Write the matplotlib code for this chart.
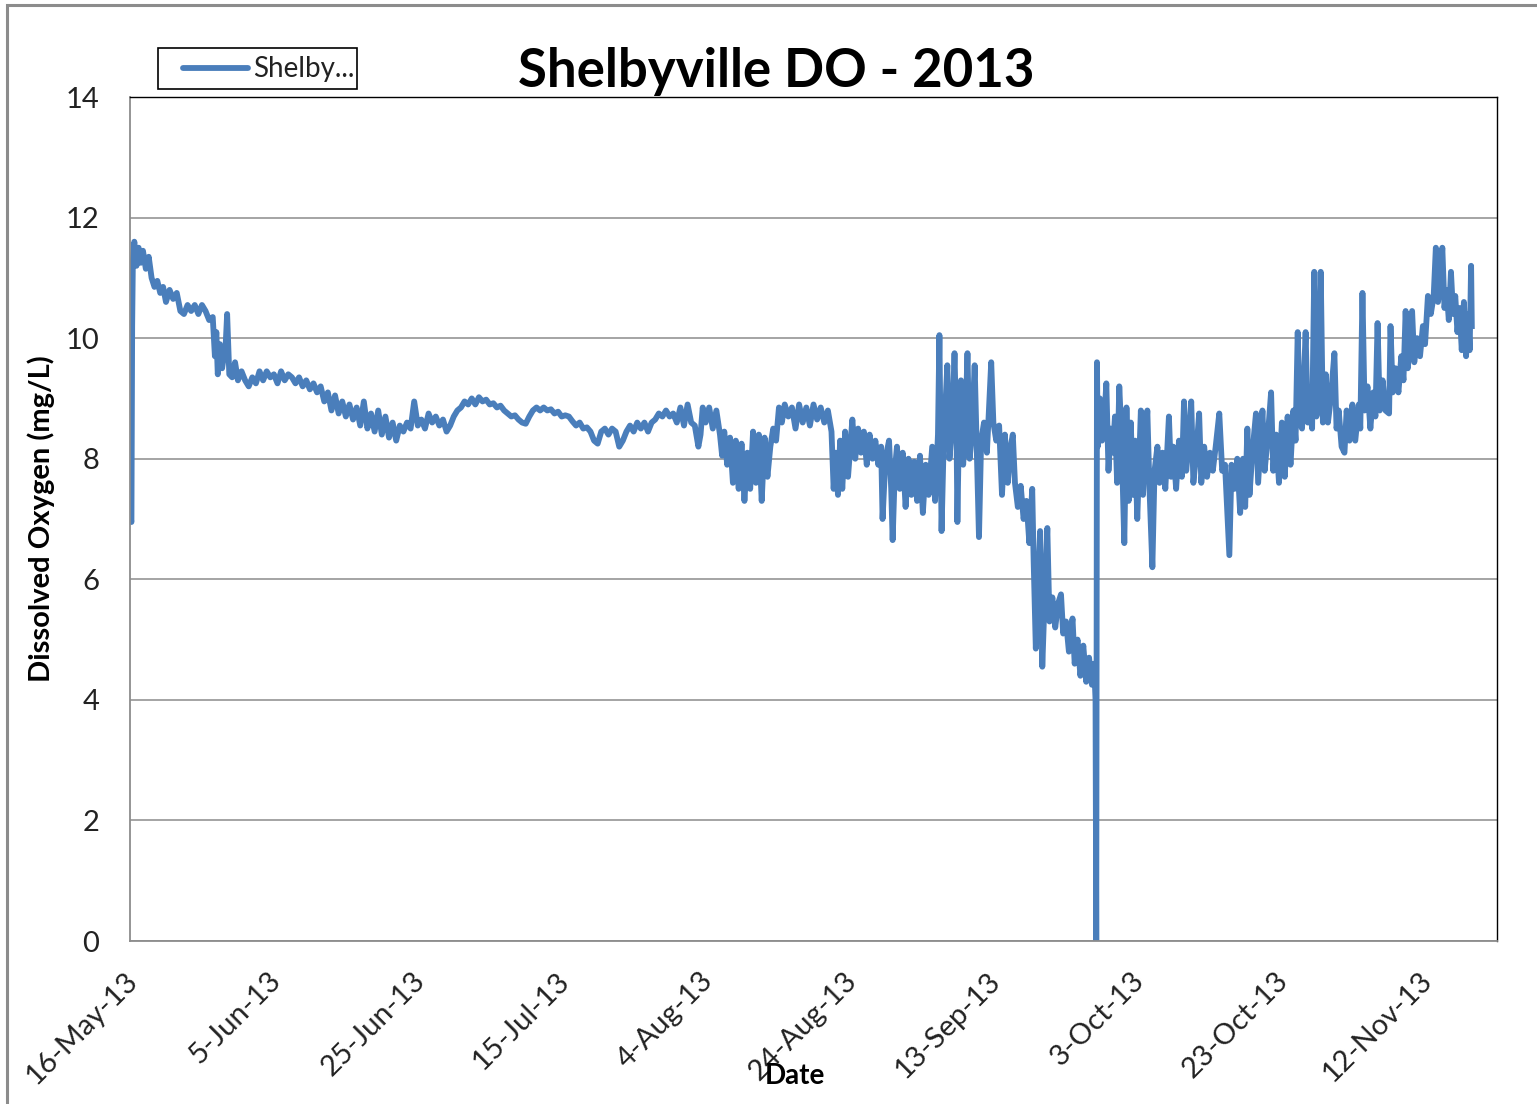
import numpy as np
import matplotlib
matplotlib.use("Agg")
import matplotlib.pyplot as plt
import matplotlib.dates as mdates
import matplotlib.transforms as mtransforms
from matplotlib.patches import Rectangle
from matplotlib.lines import Line2D

plt.rcParams['font.family'] = ['Lato', 'DejaVu Sans']

# readings: (days after 16-May-13, DO mg/L)
seg_may = [(0.0, 10.3), (0.1, 7.0), (0.2, 6.95), (0.3, 10.2), (0.4, 11.3), (0.6, 11.6), (0.9, 11.2),
           (1.2, 11.5), (1.5, 11.25), (1.8, 11.45), (2.2, 11.15), (2.6, 11.35), (3.0, 11.0), (3.4, 10.85),
           (3.8, 10.95), (4.2, 10.75), (4.6, 10.85), (5.0, 10.6), (5.5, 10.8), (6.0, 10.65), (6.5, 10.75),
           (7.0, 10.45), (7.5, 10.4), (8.0, 10.55), (8.5, 10.45), (9.0, 10.55), (9.5, 10.4), (10.0, 10.55),
           (10.5, 10.45), (11.0, 10.3), (11.5, 10.35), (11.8, 9.7), (12.0, 10.1), (12.2, 9.4), (12.5, 9.9),
           (12.8, 9.5), (13.3, 9.9), (13.5, 10.4), (13.8, 9.4), (14.2, 9.35), (14.6, 9.6), (15.0, 9.3),
           (15.5, 9.45), (16.0, 9.3), (16.5, 9.2), (17.0, 9.35), (17.5, 9.25), (18.0, 9.45), (18.5, 9.3),
           (19.0, 9.45), (19.5, 9.35), (20.0, 9.4), (20.5, 9.25), (21.0, 9.45), (21.5, 9.3), (22.0, 9.4),
           (22.5, 9.35), (23.0, 9.25), (23.5, 9.35), (24.0, 9.2), (24.5, 9.3), (25.0, 9.15), (25.5, 9.25),
           (26.0, 9.1), (26.5, 9.2), (27.0, 8.95), (27.5, 9.1), (28.0, 8.8), (28.5, 9.05), (29.0, 8.75),
           (29.5, 8.95), (30.0, 8.7), (30.5, 8.9), (31.0, 8.65), (31.5, 8.85)]

seg_jun = [(32.0, 8.55), (32.5, 8.95), (33.0, 8.5), (33.5, 8.75), (34.0, 8.45), (34.5, 8.8), (35.0, 8.4),
           (35.5, 8.7), (36.0, 8.35), (36.5, 8.6), (37.0, 8.3), (37.5, 8.55), (38.0, 8.45), (38.5, 8.6),
           (39.0, 8.5), (39.5, 8.95), (40.0, 8.55), (40.5, 8.65), (41.0, 8.5), (41.5, 8.75), (42.0, 8.6),
           (42.5, 8.7), (43.0, 8.55), (43.5, 8.65), (44.0, 8.45), (44.5, 8.55), (45.0, 8.7), (45.5, 8.8),
           (46.0, 8.85), (46.5, 8.95), (47.0, 8.9), (47.5, 9.0), (48.0, 8.9), (48.5, 9.02), (49.0, 8.95),
           (49.5, 8.98), (50.0, 8.9), (50.5, 8.92), (51.0, 8.85), (51.5, 8.88), (52.0, 8.8), (52.5, 8.75),
           (53.0, 8.7), (53.5, 8.72), (54.0, 8.65), (54.5, 8.6), (55.0, 8.58), (55.5, 8.7), (56.0, 8.8),
           (56.5, 8.85), (57.0, 8.8), (57.5, 8.85), (58.0, 8.8), (58.5, 8.82), (59.0, 8.75), (59.5, 8.78),
           (60.0, 8.7), (60.5, 8.72), (61.0, 8.7), (61.5, 8.62), (62.0, 8.55), (62.5, 8.6), (63.0, 8.5),
           (63.5, 8.52), (64.0, 8.45), (64.5, 8.3), (65.0, 8.25), (65.5, 8.45), (66.0, 8.5), (66.5, 8.4)]

seg_jul = [(67.0, 8.5), (67.5, 8.45), (68.0, 8.2), (68.5, 8.3), (69.0, 8.45), (69.5, 8.55), (70.0, 8.45),
           (70.5, 8.6), (71.0, 8.5), (71.5, 8.6), (72.0, 8.45), (72.5, 8.6), (73.0, 8.65), (73.5, 8.75),
           (74.0, 8.7), (74.5, 8.8), (75.0, 8.7), (75.5, 8.75), (76.0, 8.6), (76.5, 8.85), (77.0, 8.55),
           (77.5, 8.9), (78.0, 8.6), (78.5, 8.55), (79.0, 8.2), (79.3, 8.4), (79.6, 8.85), (80.0, 8.6),
           (80.5, 8.85), (81.0, 8.5), (81.5, 8.8), (82.0, 8.4), (82.3, 8.05), (82.6, 8.45), (83.0, 7.9),
           (83.4, 8.35), (83.8, 7.6), (84.2, 8.3), (84.6, 7.5), (85.0, 8.25), (85.4, 7.3), (85.8, 8.1),
           (86.2, 7.5), (86.6, 8.45), (87.0, 7.6), (87.4, 8.4), (87.8, 7.3), (88.2, 8.35), (88.6, 7.7),
           (89.0, 8.2), (89.4, 8.5), (89.8, 8.3), (90.2, 8.85), (90.6, 8.6), (91.0, 8.9), (91.5, 8.7),
           (92.0, 8.85), (92.5, 8.5), (93.0, 8.9), (93.5, 8.6), (94.0, 8.85), (94.5, 8.55), (95.0, 8.9),
           (95.5, 8.65), (96.0, 8.85), (96.5, 8.6), (97.0, 8.8), (97.5, 8.45), (97.8, 7.5), (98.1, 8.1),
           (98.4, 7.4), (98.7, 8.3), (99.0, 7.5), (99.4, 8.45), (99.8, 7.7), (100.2, 8.35), (100.4, 8.65)]

seg_aug = [(100.8, 8.0), (101.2, 8.5), (101.6, 8.1), (102.0, 8.45), (102.4, 7.9), (102.8, 8.4), (103.2, 8.0),
           (103.6, 8.3), (104.0, 7.9), (104.4, 8.2), (104.6, 7.0), (105.0, 8.0), (105.5, 8.3), (105.8, 7.5),
           (106.0, 6.65), (106.3, 7.8), (106.6, 8.2), (107.0, 7.5), (107.4, 8.1), (107.8, 7.2), (108.2, 8.0),
           (108.6, 7.4), (109.0, 7.95), (109.4, 7.3), (109.8, 8.05), (110.2, 7.1), (110.6, 7.9), (111.0, 7.4),
           (111.5, 8.2), (111.9, 7.3), (112.3, 8.4), (112.5, 10.05), (112.8, 6.8), (113.1, 8.3), (113.6, 9.55),
           (113.9, 8.0), (114.3, 8.6), (114.6, 9.75), (114.9, 8.2), (115.0, 6.95), (115.2, 8.4), (115.5, 9.3),
           (115.8, 7.9), (116.1, 8.5), (116.4, 9.75), (116.7, 8.0), (117.0, 8.4), (117.4, 9.55), (117.7, 8.1),
           (118.0, 6.7), (118.3, 8.3), (118.7, 8.6), (119.1, 8.1), (119.7, 9.6), (120.0, 8.6), (120.4, 8.3),
           (120.8, 8.55), (121.2, 7.4), (121.6, 8.4), (122.0, 7.6), (122.4, 8.2), (122.7, 8.4), (123.0, 7.6),
           (123.4, 7.2), (123.8, 7.55), (124.2, 7.0), (124.6, 7.3), (125.0, 6.6), (125.4, 7.5), (125.6, 6.3),
           (125.9, 4.85), (126.2, 5.9), (126.5, 6.8), (126.8, 4.55), (127.1, 5.6), (127.5, 6.85), (127.8, 5.3),
           (128.2, 5.7), (128.6, 5.2), (129.0, 5.6), (129.4, 5.75), (129.7, 5.1), (130.1, 5.3), (130.5, 4.8),
           (131.0, 5.35), (131.3, 4.6), (131.7, 5.0), (132.1, 4.4), (132.5, 4.9), (132.9, 4.3), (133.3, 4.7),
           (133.7, 4.25), (134.0, 4.6), (134.2, 4.0), (134.3, 0.0), (134.4, 9.6)]

seg_sep = [(134.5, 8.2), (134.8, 9.0), (135.1, 8.3), (135.4, 8.6), (135.7, 9.25), (136.0, 7.8), (136.3, 8.5),
           (136.6, 8.1), (136.9, 8.7), (137.2, 7.6), (137.5, 9.2), (137.8, 8.4), (138.2, 6.6), (138.5, 8.85),
           (138.8, 7.3), (139.1, 8.6), (139.4, 7.4), (139.7, 8.3), (140.0, 7.0), (140.5, 8.8), (140.8, 7.4),
           (141.1, 8.2), (141.4, 8.8), (141.7, 7.5), (142.1, 6.2), (142.4, 7.8), (142.8, 8.2), (143.1, 7.6),
           (143.5, 8.1), (143.9, 7.5), (144.4, 8.7), (144.7, 7.7), (145.0, 8.2), (145.4, 7.5), (145.8, 8.3),
           (146.2, 7.7), (146.5, 8.95), (146.8, 7.8), (147.1, 8.2), (147.5, 8.95), (147.8, 7.6), (148.2, 8.1),
           (148.6, 8.75), (148.9, 7.6), (149.3, 8.2), (149.7, 7.7), (150.1, 8.1), (150.5, 7.8), (150.9, 8.2),
           (151.4, 8.75), (151.8, 7.8), (152.2, 7.9), (152.8, 6.4), (153.1, 7.9), (153.5, 7.5), (153.9, 8.0),
           (154.3, 7.1), (154.7, 8.0), (155.0, 7.2), (155.3, 8.5), (155.6, 7.4), (156.0, 8.1), (156.5, 8.75),
           (156.8, 7.6), (157.1, 8.2), (157.4, 8.8), (157.7, 7.8), (158.1, 8.3), (158.6, 9.1), (158.9, 7.8),
           (159.3, 8.4), (159.7, 7.6), (160.1, 8.6), (160.5, 7.7), (160.9, 8.7), (161.3, 7.9), (161.7, 8.8),
           (162.0, 8.3), (162.3, 10.1), (162.6, 8.6)]

seg_nov = [(162.9, 8.5), (163.4, 10.1), (163.7, 8.6), (164.0, 8.9), (164.3, 8.5), (164.6, 11.1), (164.9, 8.7),
           (165.2, 9.0), (165.5, 11.1), (165.8, 8.6), (166.2, 9.4), (166.5, 8.6), (166.9, 9.0), (167.4, 9.75),
           (167.7, 8.5), (168.0, 8.8), (168.4, 8.2), (168.8, 8.1), (169.1, 8.8), (169.5, 8.3), (169.9, 8.9),
           (170.3, 8.3), (170.8, 8.9), (171.0, 8.5), (171.3, 10.75), (171.6, 8.8), (172.0, 9.2), (172.4, 8.5),
           (172.8, 9.1), (173.1, 8.7), (173.4, 10.25), (173.7, 8.8), (174.1, 9.3), (174.5, 8.8), (175.0, 8.75),
           (175.2, 10.2), (175.5, 9.1), (175.9, 9.5), (176.3, 9.1), (176.7, 9.7), (177.0, 9.3), (177.3, 10.45),
           (177.6, 9.5), (177.9, 9.9), (178.2, 10.45), (178.5, 9.6), (178.9, 10.0), (179.3, 9.7), (179.7, 10.2),
           (180.0, 9.9), (180.4, 10.7), (180.8, 10.4), (181.2, 10.7), (181.5, 11.5), (181.8, 10.6), (182.1, 10.9),
           (182.4, 11.5), (182.7, 10.5), (183.0, 10.8), (183.3, 10.3), (183.6, 11.1), (183.9, 10.4), (184.2, 10.7),
           (184.5, 10.1), (184.8, 10.5), (185.1, 9.8), (185.4, 10.6), (185.7, 9.7), (186.0, 10.4), (186.2, 9.8),
           (186.4, 11.2), (186.5, 10.2)]

start_date = np.datetime64('2013-05-16')
end_days = 190
tick_step_days = 20
y_ticks = [0, 2, 4, 6, 8, 10, 12, 14]
series_name = 'Shelby...'
line_color = '#4a7ebb'

readings = np.array(seg_may + seg_jun + seg_jul + seg_aug + seg_sep + seg_nov)
dates = start_date + (readings[:, 0] * 1440).astype('timedelta64[m]')
do_vals = readings[:, 1]

W, H = 1537, 1104
fig = plt.figure(figsize=(W / 100, H / 100), dpi=100)
ax = fig.add_axes([130 / W, 1 - 941 / H, (1497 - 130) / W, (941 - 97) / H])

ax.plot(dates, do_vals, color=line_color, lw=4.2, solid_joinstyle='round', label=series_name)

ax.set_xlim(start_date, start_date + np.timedelta64(end_days, 'D'))
ax.set_ylim(0, 14)
ax.set_yticks(y_ticks)
ax.set_xticks(start_date + np.arange(0, end_days, tick_step_days).astype('timedelta64[D]'))
ax.xaxis.set_major_formatter(plt.FuncFormatter(
    lambda v, pos: f"{mdates.num2date(v).day}-{mdates.num2date(v):%b-%y}"))

ax.grid(axis='y', color='#8c8c8c', lw=1.1)
ax.set_axisbelow(True)
for side in ['left', 'bottom']:
    ax.spines[side].set_color('#8c8c8c')
    ax.spines[side].set_linewidth(1.3)
for side in ['top', 'right']:
    ax.spines[side].set_color('black')
    ax.spines[side].set_linewidth(1.0)

ax.tick_params(axis='y', length=0, pad=22, labelsize=21, labelcolor='#222222')
ax.tick_params(axis='x', length=0, pad=19, labelsize=21, labelcolor='#222222')
shift = mtransforms.ScaledTranslation(-6 / 100, 0, fig.dpi_scale_trans)
for lab in ax.get_xticklabels():
    lab.set_rotation(45)
    lab.set_ha('right')
    lab.set_va('top')
    lab.set_rotation_mode('anchor')
    lab.set_transform(lab.get_transform() + shift)

ax.set_ylabel('Dissolved Oxygen (mg/L)', fontsize=21, fontweight='bold', labelpad=8)
fig.text(795 / W, 1 - 1076 / H, 'Date', fontsize=20, fontweight='bold', ha='center', va='center')
fig.text(776 / W, 1 - 72 / H, 'Shelbyville DO - 2013', fontsize=38, fontweight='bold',
         ha='center', va='center')

# legend box drawn like the Excel one (text spills past the frame)
fig.add_artist(Rectangle((158 / W, 1 - 89 / H), (357 - 158) / W, 41 / H, transform=fig.transFigure,
                         fill=False, edgecolor='black', lw=1.2))
fig.add_artist(Line2D([183 / W, 248 / W], [1 - 68 / H, 1 - 68 / H], transform=fig.transFigure,
                      color=line_color, lw=4.2, solid_capstyle='round'))
fig.text(253 / W, 1 - 69 / H, series_name, fontsize=20, color='#222222', ha='left', va='center')

# outer chart border (gray frame clipped at right/bottom)
fig.add_artist(Rectangle((7 / W, -0.1), 1.1, 1.1 - 5 / H, transform=fig.transFigure,
                         fill=False, edgecolor='#8c8c8c', lw=2.2, clip_on=False))

fig.savefig('out.png', dpi=100)
